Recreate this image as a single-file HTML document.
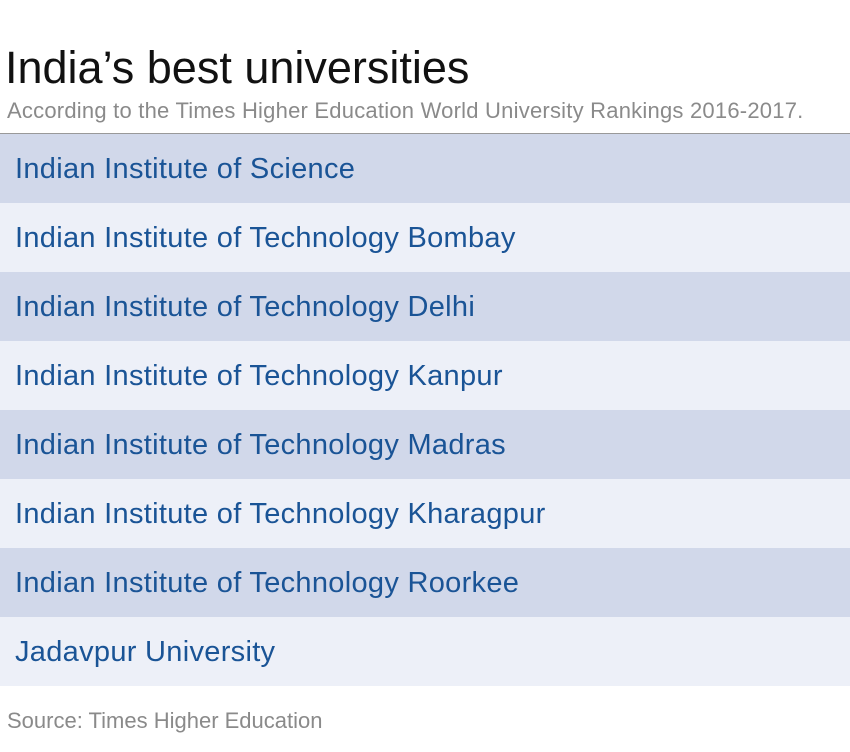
<!DOCTYPE html>
<html><head><meta charset="utf-8"><style>
body{margin:0;width:850px;height:752px;background:#fff;font-family:"Liberation Sans",Arial,sans-serif;position:relative;overflow:hidden}
.t{position:absolute;left:5px;top:42px;font-size:45px;color:#111;white-space:nowrap;letter-spacing:0px}
.s{position:absolute;left:7px;top:98px;font-size:22px;color:#8a8a8a;white-space:nowrap;letter-spacing:0.22px}
.line{position:absolute;left:0;top:133px;width:850px;height:1px;background:#999}
.r{position:absolute;left:0;width:850px;height:69px;line-height:71px;font-size:29px;color:#1a5496;padding-left:15px;box-sizing:border-box;white-space:nowrap;letter-spacing:0.3px}
.d{background:#d1d8ea}.l{background:#edf0f8}
.src{position:absolute;left:7px;top:708px;font-size:22px;color:#8a8a8a}
</style></head><body>
<div class="t">India’s best universities</div>
<div class="s">According to the Times Higher Education World University Rankings 2016-2017.</div>
<div class="line"></div>
<div class="r d" style="top:134px">Indian Institute of Science</div>
<div class="r l" style="top:203px">Indian Institute of Technology Bombay</div>
<div class="r d" style="top:272px">Indian Institute of Technology Delhi</div>
<div class="r l" style="top:341px">Indian Institute of Technology Kanpur</div>
<div class="r d" style="top:410px">Indian Institute of Technology Madras</div>
<div class="r l" style="top:479px">Indian Institute of Technology Kharagpur</div>
<div class="r d" style="top:548px">Indian Institute of Technology Roorkee</div>
<div class="r l" style="top:617px">Jadavpur University</div>
<div class="src">Source: Times Higher Education</div>
</body></html>
